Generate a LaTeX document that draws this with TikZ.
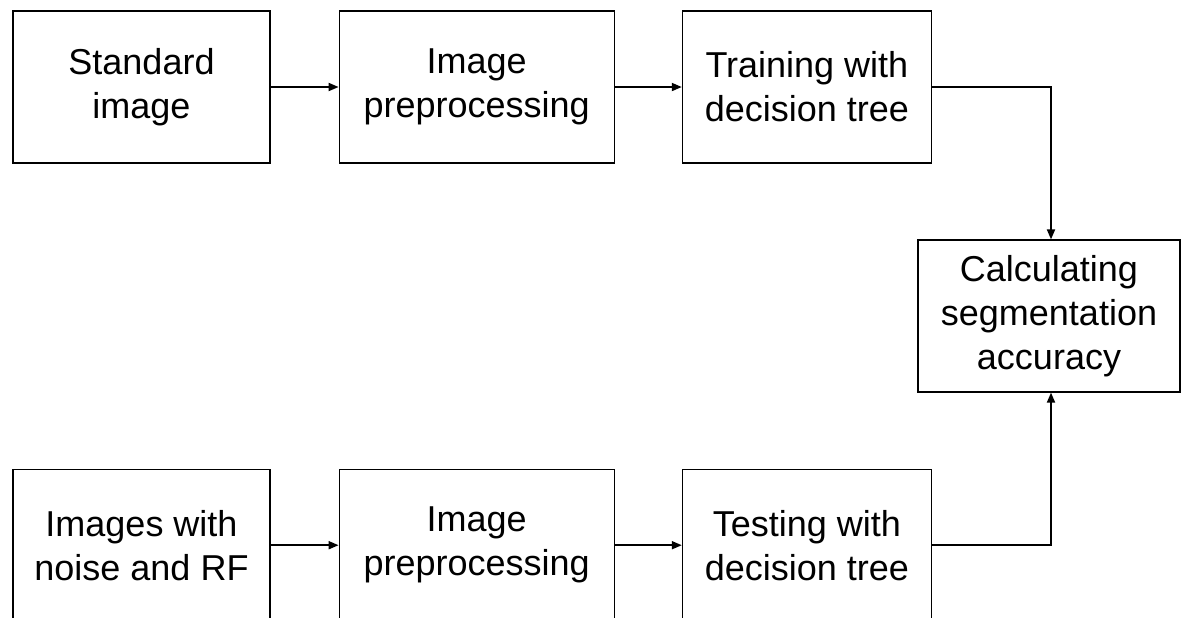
\documentclass[tikz,border=0pt]{standalone}
\usepackage{fontspec}
\setmainfont{Liberation Sans}
\usetikzlibrary{arrows.meta,positioning}

\begin{document}
\begin{tikzpicture}[x=1pt, y=1pt, every node/.style={font=\fontsize{18}{22}\selectfont},
  box/.style={draw, line width=0.6pt, align=center, minimum height=76pt, inner sep=2pt},
  arrow/.style={-{Triangle[length=5pt,width=4pt]}, line width=0.9pt}
]
\useasboundingbox (0,0) rectangle (592,-308.5);
% training branch
\node[box, minimum width=128.5pt] (std) at (70.75,-43.5) {Standard\\image};
\node[box, minimum width=137.5pt, right=34pt of std] (prepA) {Image\\preprocessing};
\node[box, minimum width=124.5pt, right=33.5pt of prepA] (train) {Training with\\decision tree};
% testing branch
\node[box, minimum width=128.5pt, below=152.5pt of std] (noisy) {Images with\\noise and RF};
\node[box, minimum width=137.5pt, below=152.5pt of prepA] (prepB) {Image\\preprocessing};
\node[box, minimum width=124.5pt, below=152.5pt of train] (test) {Testing with\\decision tree};
% result
\node[box, minimum width=131pt] (calc) at (524.5,-158) {Calculating\\segmentation\\accuracy};
\draw[arrow] (std) -- (prepA);
\draw[arrow] (prepA) -- (train);
\draw[arrow] (noisy) -- (prepB);
\draw[arrow] (prepB) -- (test);
\draw[arrow] (train.east) -| ([xshift=1pt]calc.north);
\draw[arrow] (test.east) -| ([xshift=1pt]calc.south);
\end{tikzpicture}
\end{document}
